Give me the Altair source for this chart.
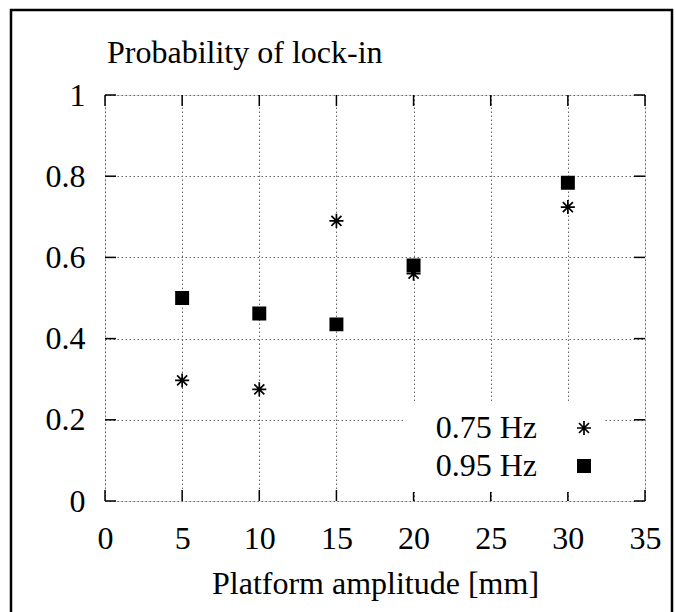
import altair as alt
import pandas as pd

amplitude = [5, 10, 15, 20, 30]
prob_075 = [0.297, 0.275, 0.69, 0.56, 0.724]
prob_095 = [0.50, 0.462, 0.435, 0.58, 0.784]
series = ["0.75 Hz", "0.95 Hz"]
x_ticks = [0, 5, 10, 15, 20, 25, 30, 35]
y_ticks = [0, 0.2, 0.4, 0.6, 0.8, 1.0]
chart_title = "Probability of lock-in"
x_title = "Platform amplitude [mm]"

W, H = 540, 406
FONT = "Liberation Serif"
FS = 32
ASTER = "M-1.15,0L1.15,0M0,-1.15L0,1.15M-0.82,-0.82L0.82,0.82M-0.82,0.82L0.82,-0.82"

df = pd.DataFrame(
    {
        "amp": amplitude * 2,
        "p": prob_075 + prob_095,
        "series": [series[0]] * len(amplitude) + [series[1]] * len(amplitude),
    }
)
xt = pd.DataFrame({"t": x_ticks})
yt = pd.DataFrame({"t": y_ticks})

xscale = alt.Scale(domain=[0, 35], nice=False, zero=False)
yscale = alt.Scale(domain=[0, 1], nice=False, zero=False)


def make_legend():
    return alt.Legend(
        title=None,
        orient="none",
        legendX=300,
        legendY=307,
        fillColor="white",
        padding=10,
        symbolSize=150,
        symbolStrokeWidth=1.7,
        symbolOffset=153,
        labelOffset={"expr": "-63"},
        labelAlign="right",
        labelFont=FONT,
        labelFontSize=FS,
        labelColor="black",
        rowPadding=6,
    )


points = (
    alt.Chart(df)
    .mark_point(filled=True, strokeWidth=1.7, opacity=1, size=150)
    .encode(
        x=alt.X(
            "amp:Q",
            scale=xscale,
            axis=alt.Axis(
                values=x_ticks,
                title=x_title,
                grid=True,
                gridColor="#666",
                gridDash=[1.5, 2.5],
                gridWidth=1,
                tickSize=0,
                domain=False,
                labelFlush=False,
                labelPadding=22,
                labelFont=FONT,
                labelFontSize=FS,
                labelColor="black",
                titleFont=FONT,
                titleFontSize=FS,
                titleFontWeight="normal",
                titleColor="black",
                titlePadding=14,
            ),
        ),
        y=alt.Y(
            "p:Q",
            scale=yscale,
            axis=alt.Axis(
                values=y_ticks,
                format="~g",
                title=None,
                grid=True,
                gridColor="#666",
                gridDash=[1.5, 2.5],
                gridWidth=1,
                tickSize=0,
                domain=False,
                labelFlush=False,
                labelPadding=20,
                labelFont=FONT,
                labelFontSize=FS,
                labelColor="black",
            ),
        ),
        shape=alt.Shape(
            "series:N",
            scale=alt.Scale(domain=series, range=[ASTER, "square"]),
            legend=make_legend(),
        ),
        fill=alt.Fill(
            "series:N",
            scale=alt.Scale(domain=series, range=["black", "black"]),
            legend=make_legend(),
        ),
        stroke=alt.Stroke(
            "series:N",
            scale=alt.Scale(domain=series, range=["black", "black"]),
            legend=make_legend(),
        ),
    )
)

tick_len = 11
bottom_ticks = alt.Chart(xt).mark_rule(color="black", strokeWidth=1.5).encode(
    x=alt.X("t:Q", scale=xscale), y=alt.value(H), y2=alt.value(H - tick_len)
)
top_ticks = alt.Chart(xt).mark_rule(color="black", strokeWidth=1.5).encode(
    x=alt.X("t:Q", scale=xscale), y=alt.value(0), y2=alt.value(tick_len)
)
left_ticks = alt.Chart(yt).mark_rule(color="black", strokeWidth=1.5).encode(
    y=alt.Y("t:Q", scale=yscale), x=alt.value(0), x2=alt.value(tick_len)
)
right_ticks = alt.Chart(yt).mark_rule(color="black", strokeWidth=1.5).encode(
    y=alt.Y("t:Q", scale=yscale), x=alt.value(W), x2=alt.value(W - tick_len)
)

frame = alt.Chart(pd.DataFrame({"a": [0]})).mark_rect(
    fill=None, fillOpacity=0, stroke="black", strokeWidth=2.5
).encode(
    x=alt.value(-94), x2=alt.value(567), y=alt.value(-85), y2=alt.value(H + 130)
)

title_text = alt.Chart(pd.DataFrame({"label": [chart_title]})).mark_text(
    font=FONT, fontSize=FS, color="black", align="left", baseline="alphabetic"
).encode(text="label:N", x=alt.value(2), y=alt.value(-32))

chart = (
    alt.layer(frame, title_text, bottom_ticks, top_ticks, left_ticks, right_ticks, points)
    .properties(
        width=W,
        height=H,
        autosize=alt.AutoSizeParams(type="none"),
        padding={"left": 105, "top": 95, "right": 31, "bottom": 111},
    )
    .configure_view(stroke="black", strokeWidth=1.8)
    .configure(background="white")
)

chart.save("out.html", embed_options={"renderer": "svg", "actions": False})
